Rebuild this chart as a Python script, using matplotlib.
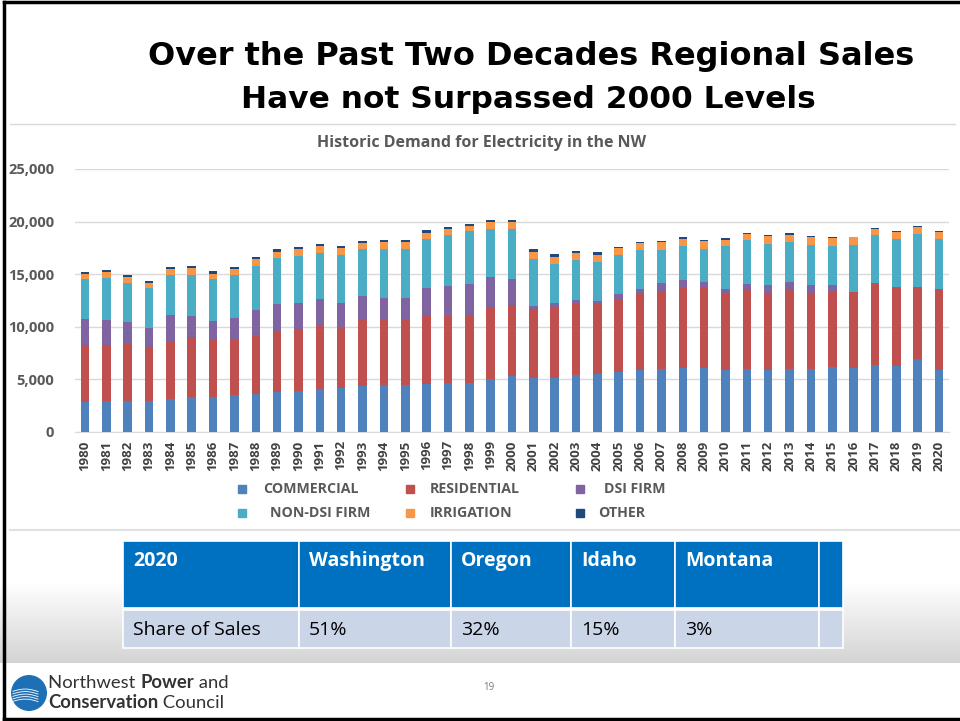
import numpy as np
import matplotlib
matplotlib.use("Agg")
import matplotlib.pyplot as plt
from matplotlib.patches import Rectangle, Circle
from matplotlib.lines import Line2D

years = list(range(1980, 2021))
commercial = [2820, 2950, 2920, 2920, 3170, 3360, 3360, 3490, 3580, 3770, 3930, 4090, 4180, 4340,
              4440, 4500, 4560, 4690, 4690, 5040, 5290, 5160, 5100, 5390, 5480, 5700, 5860, 6020,
              6050, 6050, 5860, 5990, 5930, 6020, 5990, 6180, 6120, 6370, 6240, 6970, 5930]
residential = [5450, 5290, 5540, 5160, 5420, 5640, 5350, 5220, 5580, 5830, 5830, 6110, 5710, 6340,
               6240, 6210, 6590, 6340, 6460, 6810, 6720, 6530, 6720, 6780, 6720, 6970, 7230, 7410,
               7670, 7730, 7290, 7570, 7310, 7540, 7220, 7100, 7220, 7830, 7450, 6840, 7630]
dsi_firm = [2470, 2440, 2030, 1840, 2500, 2030, 1840, 2090, 2410, 2540, 2470, 2410, 2370, 2250,
            2030, 2000, 2540, 2820, 2890, 2850, 2500, 320, 410, 410, 250, 450, 470, 730,
            700, 450, 470, 540, 700, 730, 760, 660, 0, 0, 120, 0, 0]
non_dsi_firm = [3770, 3930, 3670, 3740, 3800, 3890, 3990, 4090, 4210, 4400, 4470, 4410, 4530, 4470,
                4650, 4720, 4660, 4840, 5030, 4630, 4790, 4400, 3710, 3740, 3710, 3710, 3740, 3140,
                3230, 3200, 4030, 4150, 3930, 3770, 3840, 3710, 4440, 4490, 4500, 5010, 4750]
irrigation = [540, 600, 570, 540, 570, 640, 510, 600, 630, 600, 700, 630, 700, 570,
              700, 630, 600, 610, 540, 660, 630, 730, 730, 730, 700, 630, 670, 730,
              700, 690, 630, 570, 730, 670, 730, 790, 720, 640, 700, 640, 670]
other = [190, 190, 190, 190, 220, 220, 220, 230, 230, 220, 190, 220, 160, 190,
         190, 190, 220, 220, 190, 190, 220, 220, 220, 160, 220, 130, 120, 130,
         150, 100, 130, 130, 90, 160, 120, 100, 70, 90, 130, 90, 90]

series_names = ["COMMERCIAL", "RESIDENTIAL", "DSI FIRM", "NON-DSI FIRM", "IRRIGATION", "OTHER"]
series_vals = [commercial, residential, dsi_firm, non_dsi_firm, irrigation, other]
colors = ["#4F81BD", "#C0504D", "#8064A2", "#4BACC6", "#F79646", "#1F497D"]

table_header = ["2020", "Washington", "Oregon", "Idaho", "Montana", ""]
table_row = ["Share of Sales", "51%", "32%", "15%", "3%", ""]

W, H = 960, 721
fig = plt.figure(figsize=(W / 100, H / 100), dpi=100)
fig.patch.set_facecolor("white")

def fx(px):
    return px / W

def fy(py):
    return 1 - py / H

# background gradient panel (below chart)
bg = fig.add_axes([0, fy(663), 1, fy(530) - fy(663)], zorder=0)
grad = np.linspace(0, 1, 200)
grad = np.clip((grad - 0.4) / 0.6, 0, 1)
vals = 1 - grad * 0.17
img = np.dstack([vals, vals, vals]).reshape(200, 1, 3)
bg.imshow(img, aspect="auto", extent=[0, 1, 0, 1], origin="upper")
bg.set_axis_off()

# Main chart axes
ax = fig.add_axes([fx(75), fy(432), fx(949) - fx(75), fy(169) - fy(432)], zorder=2)
x = np.arange(len(years))
bottom = np.zeros(len(years))
for name, vals_s, c in zip(series_names, series_vals, colors):
    v = np.array(vals_s, dtype=float)
    ax.bar(x, v, bottom=bottom, width=0.4, color=c, label=name, zorder=3)
    bottom += v

ax.set_xlim(-0.468, len(years) - 1 + 0.468)
ax.set_ylim(0, 25000)
ax.set_yticks(np.arange(0, 25001, 5000))
ax.set_yticklabels([f"{int(t):,}" for t in np.arange(0, 25001, 5000)])
ax.grid(axis="y", color="#d9d9d9", linewidth=1, zorder=0)
ax.set_axisbelow(True)
for s in ["top", "right", "left"]:
    ax.spines[s].set_visible(False)
ax.spines["bottom"].set_color("#d9d9d9")
ax.tick_params(axis="y", length=0, pad=15, labelsize=10.5, labelcolor="#595959")
ax.set_xticks(x)
ax.set_xticklabels([str(y) for y in years], rotation=90)
ax.tick_params(axis="x", length=0, pad=6, labelsize=9.5, labelcolor="#404040")
for lab in ax.get_yticklabels() + ax.get_xticklabels():
    lab.set_fontweight("bold")
    lab.set_family("Open Sans")
ax.set_facecolor("none")

# chart title
fig.text(fx(482), fy(143), "Historic Demand for Electricity in the NW", ha="center", va="center",
         fontsize=11.5, fontweight="bold", color="#595959", family="Open Sans")

# legend (manual)
leg_pos = [(242, 489), (410, 489), (580, 489), (242, 513), (410, 513), (580, 513)]
text_x = [263, 430, 604, 270, 430, 598]
for (px, py), tx, name, c in zip(leg_pos, text_x, series_names, colors):
    fig.patches.append(Rectangle((fx(px - 4), fy(py + 4)), 8 / W, 8 / H, transform=fig.transFigure,
                                 color=c, figure=fig))
    fig.text(fx(tx), fy(py), name, ha="left", va="center", fontsize=10.2, fontweight="bold",
             color="#595959", family="Open Sans")

# slide title
fig.text(fx(531), fy(56), "Over the Past Two Decades Regional Sales", ha="center", va="center",
         fontsize=23, fontweight="bold", color="black", family="DejaVu Sans")
fig.text(fx(528), fy(100), "Have not Surpassed 2000 Levels", ha="center", va="center",
         fontsize=22.5, fontweight="bold", color="black", family="DejaVu Sans")

# separator lines
fig.add_artist(Line2D([fx(10), fx(955)], [fy(124), fy(124)], color="#d9d9d9", lw=1))
fig.add_artist(Line2D([fx(10), fx(960)], [fy(530), fy(530)], color="#e0e0e0", lw=1.5))

# table
col_edges = [123, 299, 451, 571, 675, 819, 843]
for i in range(len(table_header)):
    x0, x1 = col_edges[i], col_edges[i + 1]
    fig.patches.append(Rectangle((fx(x0), fy(608)), (x1 - x0) / W, (608 - 541) / H,
                                 transform=fig.transFigure, facecolor="#0070C0",
                                 edgecolor="white", lw=1.2, figure=fig, zorder=3))
    fig.patches.append(Rectangle((fx(x0), fy(648)), (x1 - x0) / W, (648 - 610) / H,
                                 transform=fig.transFigure, facecolor="#CBD5E8",
                                 edgecolor="white", lw=1.2, figure=fig, zorder=3))
    if table_header[i]:
        fig.text(fx(x0 + 10), fy(561), table_header[i], ha="left", va="center", fontsize=14,
                 fontweight="bold", color="white", family="Open Sans", zorder=4)
    if table_row[i]:
        fig.text(fx(x0 + 10), fy(630), table_row[i], ha="left", va="center", fontsize=14,
                 color="black", family="Open Sans", zorder=4)

# footer logo
logo = fig.add_axes([fx(11), fy(711), 36 / W, 36 / H], zorder=3)
logo.add_patch(Circle((0.5, 0.5), 0.48, color="#1F6FB5"))
for k in range(5):
    t = np.linspace(0.05, 0.75, 30)
    logo.plot(t, 0.25 + 0.07 * k + 0.08 * np.sin(t * 4), color="white", lw=0.6)
logo.set_xlim(0, 1)
logo.set_ylim(0, 1)
logo.set_axis_off()

# footer text, pieces placed sequentially
renderer = fig.canvas.get_renderer()

def run_text(x_px, y_px, parts):
    cur = x_px
    for s, bold in parts:
        t = fig.text(fx(cur), fy(y_px), s, ha="left", va="center", fontsize=13.3, color="#333333",
                     family="Lato", fontweight="bold" if bold else "normal")
        bb = t.get_window_extent(renderer=renderer)
        cur += bb.width

run_text(48, 683, [("Northwest ", False), ("Power", True), (" and", False)])
run_text(48, 703, [("Conservation", True), (" Council", False)])

fig.text(fx(489), fy(688), "19", ha="center", va="center", fontsize=7, color="#777777",
         family="Open Sans")

# slide frame
fig.add_artist(Line2D([fx(4), fx(960)], [fy(2), fy(2)], color="black", lw=2.5))
fig.add_artist(Line2D([fx(4), fx(4)], [fy(2), fy(719)], color="black", lw=2.5))
fig.add_artist(Line2D([fx(4), fx(960)], [fy(719), fy(719)], color="black", lw=2.5))

fig.savefig("out.png", dpi=100, facecolor="white")
